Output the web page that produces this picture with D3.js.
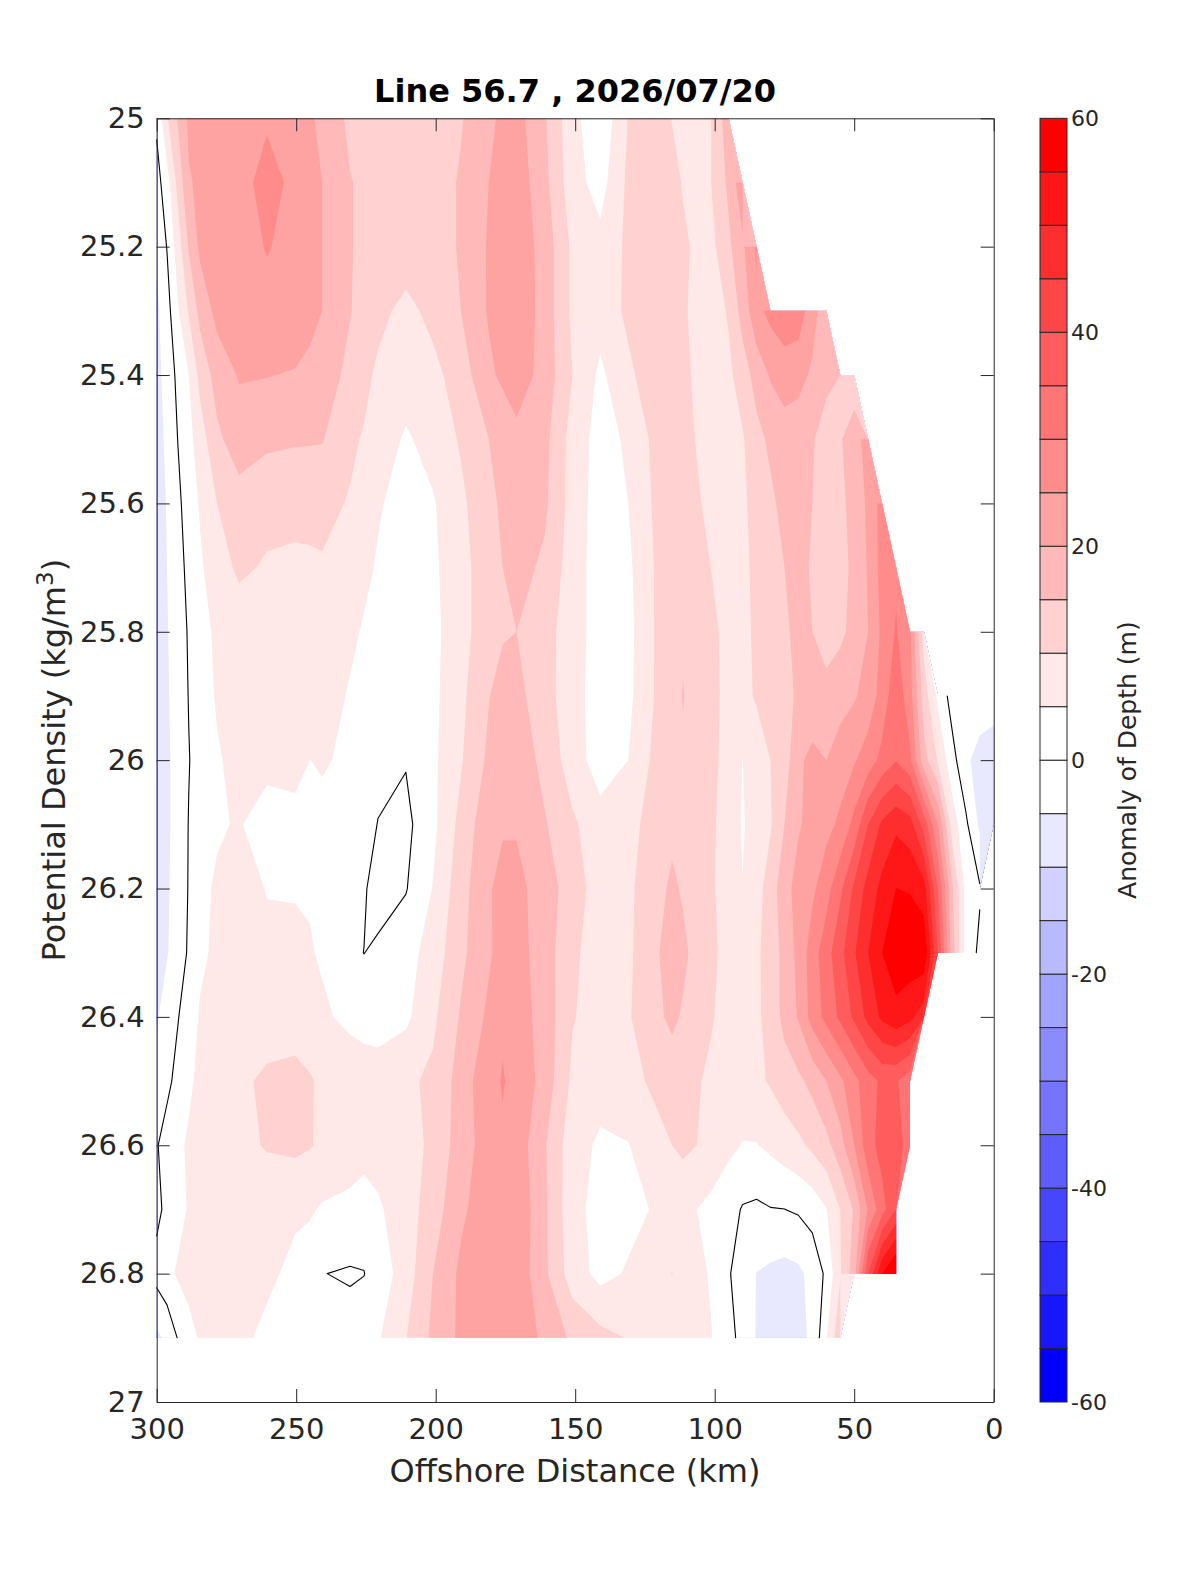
<!DOCTYPE html>
<html>
<head>
<meta charset="utf-8">
<script src="https://cdn.jsdelivr.net/npm/d3@7"></script>
<style>
  body { margin: 0; background: #fff; }
  text { font-family: "DejaVu Sans", sans-serif; fill: #262626; }
</style>
</head>
<body>
<svg id="chart" width="1200" height="1575"></svg>
<script>
// offshore distance of each grid column (km)
const distances = [300, 296.3, 292.4, 288.5, 284.5, 278.4, 270.5, 260.5, 250.4, 245, 240.7, 230.7, 225.7, 220.7, 210.7,
  201, 191, 181, 176, 171, 161, 151, 141, 131, 121, 115.3, 111.4, 101.4,
  95, 90, 85, 80, 75, 70, 65, 60, 55, 50, 45, 40, 35, 30, 25, 20, 15, 10, 5, 0];

// potential density of each grid row
const densities = [25, 25.1, 25.2, 25.3, 25.4, 25.5, 25.6, 25.7, 25.8, 25.9,
  26, 26.1, 26.2, 26.3, 26.4, 26.5, 26.6, 26.7, 26.8, 26.9];

// anomaly of depth (m), one row per density. A row stops where the section has no more data
const anomaly = [
  [1, 9.5, 15.5, 21, 22, 23, 24, 24.5, 24, 20.8, 18.5, 14, 13.5, 13, 12, 12, 14.6, 19, 20.9, 22, 15.5, 6.7, 1, 10.2, 11.5, 9.9, 8.7, 9.8, 18],
  [-2, 3, 11.5, 19.5, 21, 22, 23.5, 26.5, 24, 22, 20, 15.2, 14.3, 14, 13, 12.5, 15.5, 20, 22, 23, 16.5, 7, 3, 11, 12.5, 11, 9.8, 9.9, 16, 24],
  [-4, 0.2, 7.5, 15.5, 21, 22, 23.5, 25.2, 24, 22, 20, 15.2, 14.3, 14, 13, 12.5, 15.5, 20.5, 23, 23.5, 18, 9, 6.5, 11, 13, 11.5, 10.5, 8.5, 14, 19, 26],
  [-6, -2, 4.5, 10.5, 16.5, 21.5, 23, 24, 23.5, 22, 20, 15.2, 13.5, 11.5, 8.5, 11.5, 15, 20.5, 23.5, 24, 18, 9, 7, 11, 13, 11.5, 10.5, 7.5, 10.5, 17, 23.5, 26.5, 27.5, 27.5, 22.5, 16],
  [-7, -2.5, 1, 5, 11.5, 17, 20.4, 20.2, 19.6, 18.3, 17, 14, 11.5, 9, 7.5, 8.5, 12.5, 19, 21, 23, 18, 10, 4, 9, 13, 12, 11, 7.5, 9, 12.5, 17, 20.5, 23, 22, 19, 16.5, 15, 11.5],
  [-8, -3.5, 0.1, 3.5, 7.5, 14, 17.5, 16, 15.5, 15.4, 15.3, 11, 9.5, 8, 4.3, 7, 10.5, 15, 16.5, 18.5, 16.5, 8, 3, 5.8, 11.5, 12, 11.5, 8, 8.5, 9.5, 13.5, 16, 17, 16.5, 15.5, 12.5, 14.5, 18, 22],
  [-9, -4.5, -1, 2.2, 5.5, 10, 13, 11.5, 11.5, 11.5, 11.5, 9.6, 7.5, 5.5, 3, 4.5, 9, 13.5, 16, 17.5, 16, 8, 2.5, 5, 11, 12, 12, 9, 8, 9.5, 11, 14, 16.5, 17, 15, 12, 14, 16.5, 21, 27],
  [-8, -5, -1.8, 1.3, 4.2, 8, 10.8, 9.5, 9, 9.2, 9.5, 8, 6.2, 4.5, 2.5, 4, 8.5, 12.5, 15, 17, 14, 7.5, 2.5, 4, 10.5, 11.5, 11.5, 10, 8, 9, 11, 13.5, 15, 16.5, 14.5, 12.5, 13.5, 16, 20.5, 27, 29],
  [-7, -5.3, -2.5, 0.5, 3, 6, 7.5, 8, 7.8, 7.6, 7.5, 6, 4.5, 3, 2, 3.5, 8.5, 12.5, 14.5, 15, 11.8, 7.5, 2.5, 3.5, 10.5, 11.5, 14.5, 10.8, 9, 8.5, 11, 12.5, 14, 16.5, 15, 12, 14, 16.5, 20, 26, 30.5, 26, 8],
  [-7, -5.5, -3, 0.2, 2.5, 5.5, 7, 7.5, 7.5, 7.5, 7.5, 4.5, 3.2, 2, 1.5, 3.8, 8.8, 14.8, 17, 16.5, 12, 7, 2.5, 3.8, 10.5, 12.5, 15.2, 11, 9, 8.7, 10.5, 12.5, 14, 15.5, 16.3, 17.2, 18, 19.5, 22, 27, 33.5, 27, 12.5, 4, -2, -2.2, -1.8, -2.5],
  [-7, -5.8, -3.2, -0.2, 2, 4.5, 6.5, 7, 7.2, 4.95, 5.8, 3.5, 2, 0.5, 0.3, 4, 9.5, 16, 18, 18.3, 13.5, 7.5, 2.5, 5, 11.5, 13, 14.5, 11.5, 8, 4.95, 7.5, 10, 12.5, 19, 21.5, 20, 22.5, 24.5, 27.5, 31.5, 34.8, 31, 17, 9.5, 2, -4, -7, -8],
  [-7, -5.8, -3.2, 0.2, 2.2, 4.3, 5.5, 1.9, 2.9, 2.9, 2.8, 1.5, 0.7, -0.05, -1.3, 3.8, 11.5, 18.5, 19.5, 19.5, 15.5, 10.8, 7, 8.5, 12, 14, 13.5, 11, 7.5, 4.6, 7, 9.5, 15, 19.5, 21.5, 23.5, 26, 31.5, 40, 46, 49, 47, 38, 25, 8, 1, -6, -5.5],
  [-7, -5.6, -3, 0.3, 3.5, 5.8, 6, 4.9, 4.6, 4.5, 3.2, 3, 0.5, -1.9, -0.3, 5.2, 13, 19.5, 21.5, 21.5, 17.5, 12.5, 7.5, 9, 13.5, 15.8, 14.5, 11, 7, 5.1, 8, 12.5, 18, 22, 24, 28, 34, 41, 47, 51.5, 55.05, 54.7, 52, 35, 16, 3.5, 0.5],
  [-6.5, -5.3, -2.8, 0.7, 4, 6, 5.8, 5.5, 6.3, 5.4, 4.3, 1, -0.05, 0.8, 3, 7.2, 13.8, 19.3, 22, 22, 17.5, 11, 7.5, 9, 14.5, 17, 16, 11, 8.5, 7.5, 9, 12.5, 16.5, 21.5, 27.5, 33, 38.5, 44.5, 50, 55, 58, 58, 59, 40, 18, 3, -1],
  [-5.5, -2.7, -0.2, 2.2, 5.5, 6.5, 6.5, 6.8, 7, 6.5, 6, 3.5, 2.5, 1.8, 4, 9, 15.5, 21, 24.6, 22.5, 18, 10.3, 8, 9.5, 14, 16, 14.5, 10.5, 8, 7.5, 9, 12, 16.5, 20.5, 27, 31.5, 36, 41, 46.5, 51, 53.5, 51.5, 47],
  [-2, -1, 1.3, 4, 6.3, 7.5, 8.7, 11.2, 12, 10.5, 9, 9, 8.5, 8.5, 9, 11, 17, 24, 25.2, 24, 18, 9, 7, 8.5, 11, 12.5, 12, 9, 7.5, 7.5, 9, 10.5, 12.5, 14, 16.5, 20, 24, 28.5, 33, 36, 35.5, 32],
  [-0.3, 1.8, 3.8, 5.8, 7, 8, 9, 10.3, 11, 10.3, 9, 8, 7.5, 7, 8, 11, 17.5, 22.5, 24.6, 23, 15.5, 7, 4.2, 4.8, 8.5, 10, 11, 9, 6, 4.8, 4.8, 6, 7.5, 9, 11, 13.5, 18, 25, 33, 37, 37, 33],
  [-1.2, 1.2, 3.5, 5.4, 6.5, 7, 7.8, 7.5, 6, 5.5, 4.5, 3.5, 2, 4.3, 7.7, 12.5, 19, 23, 24, 24, 16, 6.5, 3.3, 3.5, 5.5, 6.5, 6.5, 3.5, 2, -0.4, -0.9, -0.2, -0.05, 0.6, 2, 4.8, 10, 15.5, 25.5, 33, 40],
  [1.7, 3.8, 5.6, 6.5, 7, 7.3, 7, 6.3, 3.4, 2.5, 0.1, -0.45, -0.1, 2, 7.5, 15, 21, 23, 23.5, 23.5, 16, 7.5, 3.5, 5.5, 8, 10.1, 8.5, 4.5, 0.5, -3, -5.1, -6, -6.7, -6, -3.5, 1, 9.5, 18, 40, 55, 62],
  [-6, -4, 0.3, 3.5, 5.5, 6.5, 6.5, 3.5, 2.5, 2.3, 2.2, 1.8, 2.5, 4.5, 9.8, 16, 21, 23, 23, 23, 19, 14, 11.5, 9.8, 8, 7, 6.5, 5.3, 2, -2, -5.3, -6, -6.5, -5.8, -4.5, 4.5, 14]
];

const levels = d3.range(-60, 60, 5);
const xTicks = [300, 250, 200, 150, 100, 50, 0];
const yTicks = [25, 25.2, 25.4, 25.6, 25.8, 26, 26.2, 26.4, 26.6, 26.8, 27];
const colorTicks = [-60, -40, -20, 0, 20, 40, 60];

const margin = { top: 118.3, right: 206.3, bottom: 173, left: 156.7 };
const width = 1200;
const height = 1575;
const inkColor = '#262626';

const svg = d3.select('#chart');

const x = d3.scaleLinear().domain([300, 0]).range([margin.left, width - margin.right]);
const y = d3.scaleLinear().domain([25, 27]).range([margin.top, height - margin.bottom]);

// blue - white - red, the two bands around zero are both white
const color = d3.scaleLinear()
  .domain([-57.5, -2.5, 2.5, 57.5])
  .range(['#0000ff', '#ffffff', '#ffffff', '#ff0000']);

const nx = distances.length;
const ny = densities.length;
const grid = anomaly.flatMap(row => d3.range(nx).map(i => i < row.length ? row[i] : NaN));

// d3.contours works in cell units with the nodes at i + 0.5, the grid is not regular so go through index scales
const colToKm = d3.scaleLinear().domain(d3.range(nx)).range(distances).clamp(true);
const rowToSigma = d3.scaleLinear().domain(d3.range(ny)).range(densities).clamp(true);
const project = p => [x(colToKm(p[0] - 0.5)), y(rowToSigma(p[1] - 0.5))];

const contours = d3.contours().size([nx, ny]).smooth(true);

const path = d3.geoPath(d3.geoTransform({
  point(px, py) {
    const p = project([px, py]);
    this.stream.point(p[0], p[1]);
  }
}));

svg.append('g')
  .selectAll('path')
  .data(contours.thresholds(levels)(grid))
  .join('path')
  .attr('d', path)
  .attr('fill', d => color(d.value + 2.5))
  .attr('stroke', 'none');

// zero line: keep the real crossings only, not the ring that runs round the data edge
const isNode = p => Number.isInteger(p[0] - 0.5) && Number.isInteger(p[1] - 0.5);
const isFrame = p => p[0] <= 0.5 || p[0] >= nx - 0.5 || p[1] <= 0.5 || p[1] >= ny - 0.5;

const zeroPath = d3.path();
contours.thresholds([0])(grid)[0].coordinates.forEach(polygon => {
  polygon.forEach(ring => {
    d3.pairs(ring).forEach(([a, b]) => {
      if (isNode(a) || isNode(b) || (isFrame(a) && isFrame(b))) return;
      const pa = project(a);
      const pb = project(b);
      zeroPath.moveTo(pa[0], pa[1]);
      zeroPath.lineTo(pb[0], pb[1]);
    });
  });
});

svg.append('path')
  .attr('d', zeroPath.toString())
  .attr('fill', 'none')
  .attr('stroke', '#000')
  .attr('stroke-width', 1.1)
  .attr('stroke-linecap', 'round');

// axes, ticks point inwards on all four sides
const styleAxis = g => g
  .call(g => g.selectAll('.domain').attr('stroke', inkColor))
  .call(g => g.selectAll('.tick line').attr('stroke', inkColor))
  .call(g => g.selectAll('.tick text').attr('font-size', 29).style('fill', inkColor).attr('font-family', '"DejaVu Sans", sans-serif'));

svg.append('g')
  .attr('transform', `translate(0,${height - margin.bottom})`)
  .call(d3.axisBottom(x).tickValues(xTicks).tickFormat(d => d).tickSizeInner(-13).tickSizeOuter(0).tickPadding(16))
  .call(styleAxis);

svg.append('g')
  .attr('transform', `translate(0,${margin.top})`)
  .call(d3.axisTop(x).tickValues(xTicks).tickFormat('').tickSizeInner(-13).tickSizeOuter(0))
  .call(styleAxis);

svg.append('g')
  .attr('transform', `translate(${margin.left},0)`)
  .call(d3.axisLeft(y).tickValues(yTicks).tickFormat(d => d).tickSizeInner(-13).tickSizeOuter(0).tickPadding(12))
  .call(styleAxis);

svg.append('g')
  .attr('transform', `translate(${width - margin.right},0)`)
  .call(d3.axisRight(y).tickValues(yTicks).tickFormat('').tickSizeInner(-13).tickSizeOuter(0))
  .call(styleAxis);

svg.append('text')
  .attr('x', 575)
  .attr('y', 102)
  .attr('text-anchor', 'middle')
  .attr('font-size', 32)
  .attr('font-weight', 'bold')
  .style('fill', '#000')
  .text('Line 56.7 , 2026/07/20');

svg.append('text')
  .attr('x', 575)
  .attr('y', 1482)
  .attr('text-anchor', 'middle')
  .attr('font-size', 32)
  .text('Offshore Distance (km)');

const yLabel = svg.append('text')
  .attr('transform', `translate(65,${(margin.top + height - margin.bottom) / 2}) rotate(-90)`)
  .attr('text-anchor', 'middle')
  .attr('font-size', 32);
yLabel.append('tspan').text('Potential Density (kg/m');
yLabel.append('tspan').attr('dy', -12).attr('font-size', 23).text('3');
yLabel.append('tspan').attr('dy', 12).text(')');

// colorbar
const barLeft = 1040;
const barWidth = 27;
const barScale = d3.scaleLinear().domain([-60, 60]).range([height - margin.bottom, margin.top]);

svg.append('g')
  .selectAll('rect')
  .data(levels)
  .join('rect')
  .attr('x', barLeft)
  .attr('y', d => barScale(d + 5))
  .attr('width', barWidth)
  .attr('height', d => barScale(d) - barScale(d + 5))
  .attr('fill', d => color(d + 2.5))
  .attr('stroke', inkColor)
  .attr('stroke-width', 1);

svg.append('g')
  .attr('transform', `translate(${barLeft + barWidth},0)`)
  .call(d3.axisRight(barScale).tickValues(colorTicks).tickFormat(d => d).tickSize(0).tickPadding(4))
  .call(g => g.select('.domain').remove())
  .call(g => g.selectAll('.tick text').attr('font-size', 22).style('fill', inkColor).attr('font-family', '"DejaVu Sans", sans-serif'));

svg.append('text')
  .attr('transform', `translate(1136,${(margin.top + height - margin.bottom) / 2}) rotate(-90)`)
  .attr('text-anchor', 'middle')
  .attr('font-size', 25)
  .text('Anomaly of Depth (m)');
</script>
</body>
</html>
